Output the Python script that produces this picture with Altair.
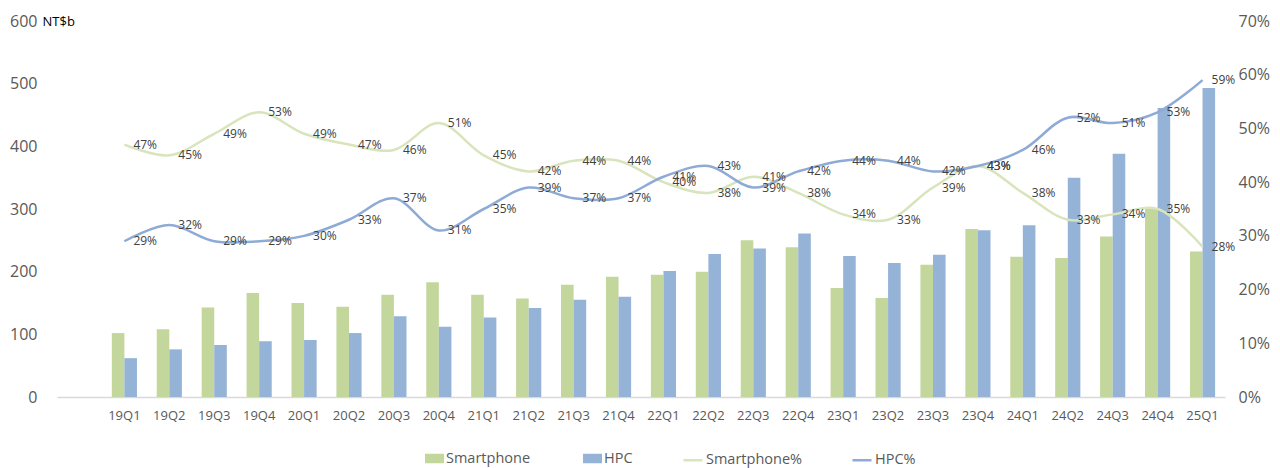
import altair as alt
import pandas as pd

quarters = ["19Q1", "19Q2", "19Q3", "19Q4", "20Q1", "20Q2", "20Q3", "20Q4",
            "21Q1", "21Q2", "21Q3", "21Q4", "22Q1", "22Q2", "22Q3", "22Q4",
            "23Q1", "23Q2", "23Q3", "23Q4", "24Q1", "24Q2", "24Q3", "24Q4", "25Q1"]
smartphone = [102, 108, 143, 166, 150, 144, 163, 183, 163, 157, 179, 192, 195,
              200, 250, 239, 174, 158, 211, 268, 224, 222, 256, 300, 232]
hpc = [62, 76, 83, 89, 91, 102, 129, 112, 127, 142, 155, 160, 201,
       228, 237, 261, 225, 214, 227, 266, 274, 350, 388, 461, 493]
smartphone_pct = [47, 45, 49, 53, 49, 47, 46, 51, 45, 42, 44, 44, 40,
                  38, 41, 38, 34, 33, 39, 43, 38, 33, 34, 35, 28]
hpc_pct = [29, 32, 29, 29, 30, 33, 37, 31, 35, 39, 37, 37, 41,
           43, 39, 42, 44, 44, 42, 43, 46, 52, 51, 53, 59]
left_ticks = [0, 100, 200, 300, 400, 500, 600]
right_ticks = [0, 0.1, 0.2, 0.3, 0.4, 0.5, 0.6, 0.7]

bar_series = ["Smartphone", "HPC"]
line_series = ["Smartphone%", "HPC%"]

rows = []
for q, s, h in zip(quarters, smartphone, hpc):
    rows.append({"quarter": q, "series": "Smartphone", "value": s})
    rows.append({"quarter": q, "series": "HPC", "value": h})
bar_df = pd.DataFrame(rows)

lrows = []
for q, s, h in zip(quarters, smartphone_pct, hpc_pct):
    lrows.append({"quarter": q, "series": "Smartphone%", "pct": s / 100})
    lrows.append({"quarter": q, "series": "HPC%", "pct": h / 100})
line_df = pd.DataFrame(lrows)

x_domain = [" "] + quarters
GREEN = "#c3d69b"
BLUE = "#95b3d7"
LGREEN = "#d8e4bc"
LBLUE = "#8eaad6"
GRAY = "#595959"


def x_enc():
    return alt.X(
        "quarter:N",
        sort=x_domain,
        scale=alt.Scale(domain=x_domain, paddingInner=0.44, paddingOuter=0.22),
        axis=alt.Axis(title=None, labelAngle=0, ticks=False, domainColor="#d9d9d9",
                      domainWidth=1.5, labelColor=GRAY, labelFontSize=13, labelPadding=12),
    )


bars = alt.Chart(bar_df).mark_bar().encode(
    x=x_enc(),
    xOffset=alt.XOffset("series:N", sort=bar_series,
                        scale=alt.Scale(domain=bar_series, paddingInner=0, paddingOuter=0)),
    y=alt.Y("value:Q", scale=alt.Scale(domain=[0, 600]),
            axis=alt.Axis(title="NT$b", titleAngle=0, titleAlign="left", titleBaseline="middle",
                          titleX=-15, titleY=0, titleFontSize=13, titleFontWeight="normal",
                          titleColor="#000000", values=left_ticks, grid=False, ticks=False,
                          domain=False, labelColor=GRAY, labelFontSize=16, labelPadding=20)),
    fill=alt.Fill("series:N", title=None,
                  scale=alt.Scale(domain=bar_series, range=[GREEN, BLUE]),
                  legend=alt.Legend(orient="none", legendX=368, legendY=428, direction="horizontal",
                                    symbolType="M-1,-0.5H1V0.5H-1Z", symbolSize=361,
                                    symbolStrokeWidth=0, labelFontSize=14.5, labelColor=GRAY,
                                    columnPadding=52, labelOffset=2)),
)

lines = alt.Chart(line_df).mark_line(interpolate="catmull-rom", strokeWidth=2.5).encode(
    x=x_enc(),
    y=alt.Y("pct:Q", scale=alt.Scale(domain=[0, 0.7]),
            axis=alt.Axis(orient="right", title=None, format=".0%", values=right_ticks,
                          grid=False, ticks=False, domain=False, labelColor=GRAY,
                          labelFontSize=16, labelPadding=13)),
    stroke=alt.Stroke("series:N", title=None,
                      scale=alt.Scale(domain=line_series, range=[LGREEN, LBLUE]),
                      legend=alt.Legend(orient="none", legendX=625, legendY=428, direction="horizontal",
                                        symbolType="stroke", symbolSize=361, symbolStrokeWidth=2.5,
                                        labelFontSize=14.5, labelColor=GRAY,
                                        columnPadding=44, labelOffset=2)),
    detail="series:N",
)

labels = alt.Chart(line_df).mark_text(align="left", baseline="middle", dx=9, fontSize=12,
                                      color="#404040").encode(
    x=x_enc(),
    y=alt.Y("pct:Q", scale=alt.Scale(domain=[0, 0.7]), axis=None),
    text=alt.Text("pct:Q", format=".0%"),
)

chart = alt.layer(bars, lines, labels).resolve_scale(y="independent").properties(
    width=1168, height=376,
    padding={"left": 49, "top": 13, "right": 47, "bottom": 71},
    autosize=alt.AutoSizeParams(type="none"),
).configure(font="Open Sans").configure_view(stroke=None)

chart.save("out.html", embed_options={"renderer": "svg", "actions": False})
